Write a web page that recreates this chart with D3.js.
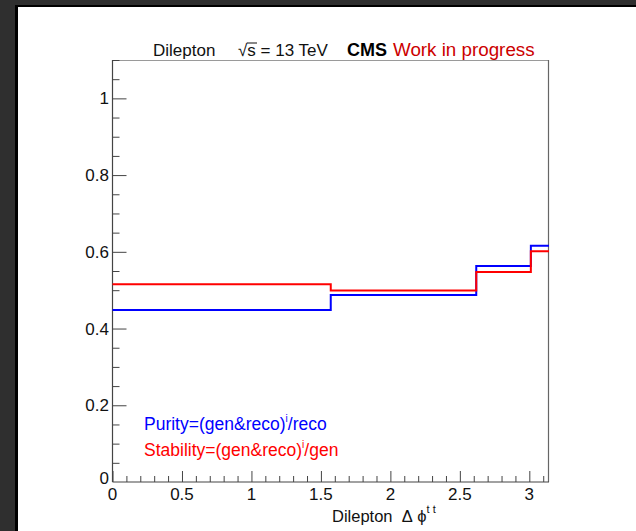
<!DOCTYPE html>
<html>
<head>
<meta charset="utf-8">
<script src="https://cdnjs.cloudflare.com/ajax/libs/d3/7.8.5/d3.min.js"></script>
<style>
  html, body { margin: 0; padding: 0; background: #ffffff; }
  svg { display: block; font-family: "Liberation Sans", Arial, Helvetica, sans-serif; }
</style>
</head>
<body>
<svg id="chart" width="636" height="531"></svg>
<script>
// Bin edges in Δφ (radians) and per-bin fractions
const binEdges = [0, 1.5708, 2.618, 3.011, Math.PI];
const purity = [0.4485, 0.4876, 0.5630, 0.6160];
const stability = [0.5155, 0.4990, 0.5476, 0.6016];
const xTickValues = [0, 0.5, 1, 1.5, 2, 2.5, 3];
const yTickValues = [0.2, 0.4, 0.6, 0.8, 1];
const legendLabels = ["Purity=(gen&reco)", "Stability=(gen&reco)"];
const legendTails = ["/reco", "/gen"];

const svg = d3.select("#chart");
const W = 636, H = 531;

// window chrome: dark band on top and left
svg.append("rect").attr("x", 0).attr("y", 0).attr("width", W).attr("height", H).attr("fill", "#ffffff");
svg.append("rect").attr("x", 0).attr("y", 0).attr("width", W).attr("height", 6).attr("fill", "#2f2f2f");
svg.append("rect").attr("x", 0).attr("y", 0).attr("width", 16).attr("height", H).attr("fill", "#2f2f2f");
svg.append("rect").attr("x", 16).attr("y", 5).attr("width", W - 16).attr("height", 2).attr("fill", "#000000");
svg.append("rect").attr("x", 15).attr("y", 5).attr("width", 3).attr("height", H).attr("fill", "#000000");

const plotL = 112.5, plotR = 549, plotT = 60, plotB = 482;
const x = d3.scaleLinear().domain([0, Math.PI]).range([plotL, plotR]);
const y = d3.scaleLinear().domain([0, 1.1]).range([plotB, plotT]);

// frame
svg.append("line").attr("x1", plotL).attr("x2", plotR).attr("y1", plotT + 0.5).attr("y2", plotT + 0.5)
  .attr("stroke", "#9a9a9a").attr("stroke-width", 1);
svg.append("line").attr("x1", plotR - 0.5).attr("x2", plotR - 0.5).attr("y1", plotT).attr("y2", plotB)
  .attr("stroke", "#666").attr("stroke-width", 1.2);

// x axis (ticks pointing into the frame)
const xMinor = d3.range(0, 3.15, 0.1).filter(v => Math.abs(v * 2 - Math.round(v * 2)) > 1e-6);
const gx = svg.append("g").attr("transform", `translate(0,${plotB})`)
  .call(d3.axisTop(x).tickValues(xTickValues).tickSize(11).tickFormat(""));
gx.select(".domain").remove();
gx.selectAll("line").attr("stroke", "#444");
const gxm = svg.append("g").attr("transform", `translate(0,${plotB})`)
  .call(d3.axisTop(x).tickValues(xMinor).tickSize(6).tickFormat(""));
gxm.select(".domain").remove();
gxm.selectAll("line").attr("stroke", "#444");
svg.append("line").attr("x1", plotL).attr("x2", plotR).attr("y1", plotB).attr("y2", plotB)
  .attr("stroke", "#444").attr("stroke-width", 1.2);
svg.append("g").selectAll("text").data(xTickValues).join("text")
  .attr("x", d => x(d)).attr("y", 500).attr("text-anchor", "middle")
  .attr("font-size", 17).attr("fill", "#111").text(d => d3.format("~g")(d));

// y axis
const yMinor = d3.range(0.05, 1.101, 0.05).filter(v => Math.abs(v * 5 - Math.round(v * 5)) > 1e-6);
const gy = svg.append("g").attr("transform", `translate(${plotL},0)`)
  .call(d3.axisRight(y).tickValues(yTickValues).tickSize(14).tickFormat(""));
gy.select(".domain").remove();
gy.selectAll("line").attr("stroke", "#444");
const gym = svg.append("g").attr("transform", `translate(${plotL},0)`)
  .call(d3.axisRight(y).tickValues(yMinor).tickSize(7).tickFormat(""));
gym.select(".domain").remove();
gym.selectAll("line").attr("stroke", "#444");
svg.append("line").attr("x1", plotL).attr("x2", plotL).attr("y1", plotT).attr("y2", plotB)
  .attr("stroke", "#444").attr("stroke-width", 1.2);
svg.append("g").selectAll("text").data(yTickValues).join("text")
  .attr("x", 109).attr("y", d => y(d) + 6).attr("text-anchor", "end")
  .attr("font-size", 17).attr("fill", "#111").text(d => d3.format("~g")(d));
svg.append("text").attr("x", 109).attr("y", 484).attr("text-anchor", "end")
  .attr("font-size", 17).attr("fill", "#111").text("0");

// step histograms
function stepPoints(vals) {
  const pts = vals.map((v, i) => [binEdges[i], v]);
  pts.push([binEdges[binEdges.length - 1], vals[vals.length - 1]]);
  return pts;
}
const line = d3.line().x(d => x(d[0])).y(d => y(d[1])).curve(d3.curveStepAfter);
svg.append("path").attr("d", line(stepPoints(purity))).attr("fill", "none")
  .attr("stroke", "#0000ff").attr("stroke-width", 2);
svg.append("path").attr("d", line(stepPoints(stability))).attr("fill", "none")
  .attr("stroke", "#ff0000").attr("stroke-width", 2);

// header texts
svg.append("text").attr("x", 153).attr("y", 56).attr("font-size", 17).attr("fill", "#111").text("Dilepton");
const sq = svg.append("text").attr("x", 238).attr("y", 56).attr("font-size", 17).attr("fill", "#111");
sq.append("tspan").text("√");
sq.append("tspan").text("s");
sq.append("tspan").text(" = 13 TeV");
svg.append("line").attr("x1", 247).attr("x2", 257).attr("y1", 43).attr("y2", 43).attr("stroke", "#111").attr("stroke-width", 1);
svg.append("text").attr("x", 347).attr("y", 56).attr("font-size", 18).attr("font-weight", "bold").attr("fill", "#000").text("CMS");
svg.append("text").attr("x", 393).attr("y", 56).attr("font-size", 18.8).attr("fill", "#cc0000").text("Work in progress");

// axis title
const xt = svg.append("text").attr("x", 332).attr("y", 522).attr("font-size", 16.5).attr("fill", "#111")
  .style("white-space", "pre");
xt.append("tspan").text("Dilepton\u00a0\u00a0Δ\u00a0ϕ");
xt.append("tspan").attr("dy", -9).attr("font-size", 11).text("t\u00a0t");

// legend
const legColors = ["#0000ff", "#ff0000"];
const legY = [430, 456];
legendLabels.forEach((lab, i) => {
  const t = svg.append("text").attr("x", 144).attr("y", legY[i]).attr("font-size", 17.5).attr("fill", legColors[i]);
  t.append("tspan").text(lab);
  t.append("tspan").attr("dy", -8).attr("font-size", 10).text("i");
  t.append("tspan").attr("dy", 8).text(legendTails[i]);
});
</script>
</body>
</html>
